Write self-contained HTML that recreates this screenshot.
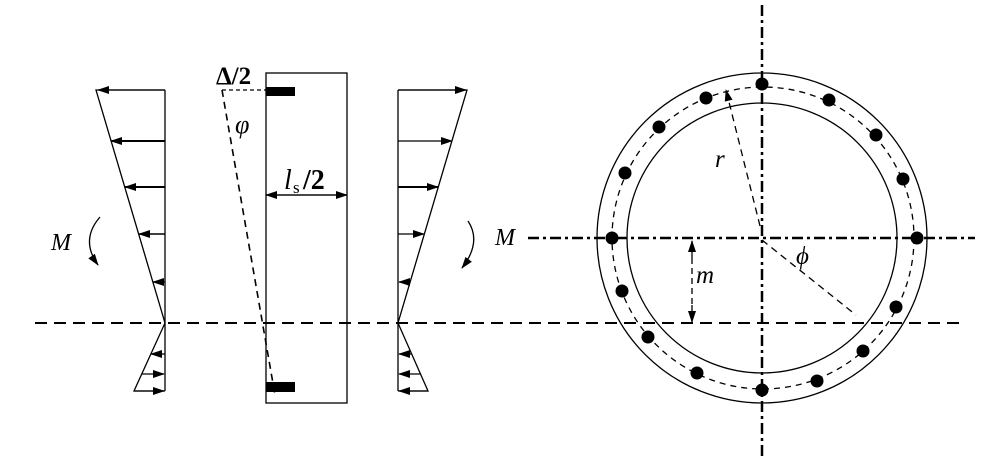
<!DOCTYPE html>
<html><head><meta charset="utf-8"><style>
html,body{margin:0;padding:0;background:#fff;}
svg{display:block;}
text{font-family:"Liberation Serif",serif;fill:#000;}
</style></head><body>
<svg width="987" height="457" viewBox="0 0 987 457" xmlns="http://www.w3.org/2000/svg">
<defs>
<marker id="ah" markerWidth="12" markerHeight="8" refX="11" refY="4" orient="auto" markerUnits="userSpaceOnUse">
<path d="M0,0 L12,4 L0,8 Z" fill="#000"/>
</marker>
</defs>
<g stroke="#000" fill="none" stroke-width="1.3">
<line x1="35" y1="323" x2="965" y2="323" stroke-width="2" stroke-dasharray="12,7"/>

<line x1="165" y1="90" x2="165" y2="391"/>
<polyline points="165,90 96,90 165,323 134,391 165,391"/>
<g marker-end="url(#ah)">
<line x1="165" y1="90" x2="98" y2="90"/>
<line x1="165" y1="141" x2="111" y2="141" stroke-width="2"/>
<line x1="165" y1="187" x2="125" y2="187" stroke-width="2"/>
<line x1="165" y1="234" x2="139" y2="234" stroke-width="1.6"/>
<line x1="165" y1="282" x2="153" y2="282"/>
<line x1="165" y1="354" x2="151" y2="354"/>
<line x1="142" y1="374" x2="164" y2="374"/>
<line x1="134" y1="391" x2="164" y2="391"/>
</g>
<path d="M100,217 Q80,240 98,265" marker-end="url(#ah)"/>

<rect x="266" y="73" width="81" height="330"/>
<line x1="222" y1="90" x2="266" y2="90" stroke-dasharray="4,3"/>
<line x1="222" y1="90" x2="275" y2="395" stroke-width="1.6" stroke-dasharray="7,5"/>
<line x1="266" y1="195" x2="347" y2="195" marker-end="url(#ah)"/>
<line x1="347" y1="195" x2="266" y2="195" marker-end="url(#ah)"/>

<line x1="398" y1="90" x2="398" y2="391"/>
<polyline points="398,90 467,90 398,323 428,391 398,391"/>
<g marker-end="url(#ah)">
<line x1="398" y1="90" x2="466" y2="90"/>
<line x1="398" y1="141" x2="452" y2="141"/>
<line x1="398" y1="187" x2="438" y2="187" stroke-width="2"/>
<line x1="398" y1="234" x2="424" y2="234"/>
<line x1="410" y1="282" x2="399" y2="282"/>
<line x1="412" y1="354" x2="399" y2="354"/>
<line x1="420" y1="374" x2="399" y2="374"/>
<line x1="428" y1="391" x2="399" y2="391"/>
</g>
<path d="M468,221 Q482,242 462,268" marker-end="url(#ah)"/>

<circle cx="762" cy="238" r="165"/>
<circle cx="762" cy="238" r="135"/>
<circle cx="763" cy="238" r="151" stroke-dasharray="6,5"/>
<line x1="762" y1="5" x2="762" y2="457" stroke-width="2.5" stroke-dasharray="11,4,3,4"/>
<line x1="528" y1="238" x2="975" y2="238" stroke-width="2.5" stroke-dasharray="11,4,3,4"/>
<line x1="760" y1="226" x2="726" y2="90" stroke-dasharray="7,5" marker-end="url(#ah)"/>
<line x1="762" y1="240" x2="856" y2="315" stroke-dasharray="7,5"/>
<line x1="692" y1="258" x2="692" y2="241" marker-end="url(#ah)"/>
<line x1="692" y1="305" x2="692" y2="322" marker-end="url(#ah)"/>
<line x1="692" y1="258" x2="692" y2="305" stroke-dasharray="6,4"/>
</g>
<g fill="#000">
<rect x="266" y="87" width="29" height="9"/>
<rect x="266" y="382" width="29" height="10"/>
<circle cx="762" cy="84" r="6.5"/>
<circle cx="829" cy="100" r="6.5"/>
<circle cx="876" cy="135" r="6.5"/>
<circle cx="903" cy="179" r="6.5"/>
<circle cx="917" cy="238" r="6.5"/>
<circle cx="896" cy="307" r="6.5"/>
<circle cx="863" cy="351" r="6.5"/>
<circle cx="817" cy="381" r="6.5"/>
<circle cx="762" cy="390" r="6.5"/>
<circle cx="697" cy="373" r="6.5"/>
<circle cx="648" cy="337" r="6.5"/>
<circle cx="622" cy="291" r="6.5"/>
<circle cx="612" cy="238" r="6.5"/>
<circle cx="625" cy="173" r="6.5"/>
<circle cx="659" cy="127" r="6.5"/>
<circle cx="706" cy="98" r="6.5"/>
</g>
<text x="51" y="250" font-size="24" font-style="italic">M</text>
<text x="495" y="245" font-size="24" font-style="italic">M</text>
<text x="216" y="84" font-size="25" font-weight="bold">Δ/2</text>
<text x="235" y="133" font-size="26" font-style="italic">φ</text>
<text x="284" y="189" font-size="28" font-style="italic">l</text>
<text x="293" y="193" font-size="17">s</text>
<text x="303" y="189" font-size="28" font-weight="bold">/2</text>
<text x="715" y="167" font-size="25" font-style="italic">r</text>
<text x="796" y="264" font-size="25" font-style="italic">ϕ</text>
<text x="696" y="283" font-size="25" font-style="italic">m</text>
</svg>
</body></html>
